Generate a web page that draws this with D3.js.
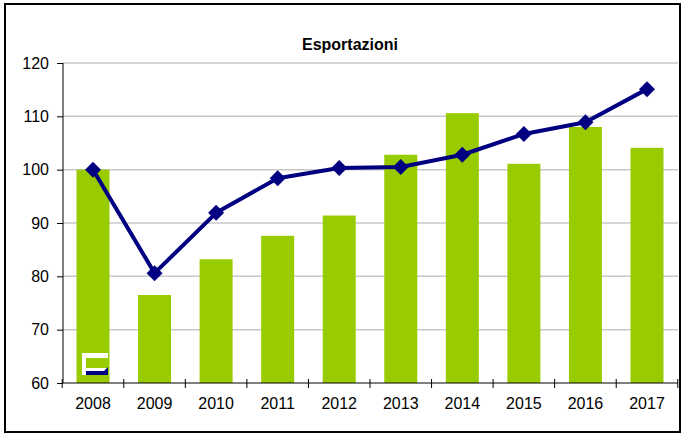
<!DOCTYPE html>
<html><head><meta charset="utf-8">
<script src="https://cdn.jsdelivr.net/npm/d3@7/dist/d3.min.js"></script>
<style>body{margin:0;background:#fff}svg{display:block}text{font-family:"Liberation Sans",Arial,sans-serif}</style>
</head><body>
<svg id="c" width="684" height="434"></svg>
<script>
const years = ["2008","2009","2010","2011","2012","2013","2014","2015","2016","2017"];
const barValues = [100, 76.5, 83.2, 87.6, 91.4, 102.8, 110.6, 101.1, 108.0, 104.1];
const lineValues = [100, 80.6, 91.9, 98.4, 100.3, 100.5, 102.8, 106.7, 108.9, 115.1];
const yTicks = [60, 70, 80, 90, 100, 110, 120];
const title = "Esportazioni";

const svg = d3.select("#c");
svg.append("rect").attr("x",5).attr("y",4).attr("width",675).attr("height",428)
  .attr("fill","#fff").attr("stroke","#000").attr("stroke-width",2);

const xc = d3.scalePoint().domain(years).range([93,647]);
const y = d3.scaleLinear().domain([60,120]).range([383,63]);

svg.append("g").selectAll("line").data(yTicks.slice(1)).join("line")
  .attr("x1",63).attr("x2",678).attr("y1",d=>y(d)).attr("y2",d=>y(d))
  .attr("stroke","#c8c8c8").attr("stroke-width",1.5);

svg.append("g").selectAll("rect").data(barValues).join("rect")
  .attr("x",(d,i)=>xc(years[i])-16.5).attr("width",33)
  .attr("y",d=>y(d)).attr("height",d=>y(60)-y(d)).attr("fill","#99cc00");

const ya = svg.append("g").attr("transform","translate(63,0)")
  .call(d3.axisLeft(y).tickValues(yTicks).tickSize(6).tickPadding(8));
ya.select(".domain").attr("stroke","#000").attr("d","M0,63V383");
ya.selectAll(".tick line").attr("stroke","#000");
ya.selectAll("text").attr("font-size",16).attr("fill","#000").attr("font-family","'Liberation Sans',Arial,sans-serif");

const step = (647-93)/9;
const xa = svg.append("g").attr("transform","translate(0,383)");
xa.append("line").attr("x1",63).attr("x2",678).attr("stroke","#000");
xa.selectAll("line.t").data(d3.range(years.length+1)).join("line").attr("class","t")
  .attr("x1",i=>93-step/2+i*step).attr("x2",i=>93-step/2+i*step).attr("y1",-4).attr("y2",5).attr("stroke","#000");
xa.selectAll("text").data(years).join("text")
  .attr("x",d=>xc(d)).attr("y",26).attr("text-anchor","middle").attr("font-size",16).text(d=>d);

const line = d3.line().x((d,i)=>xc(years[i])).y(d=>y(d));
svg.append("path").datum(lineValues).attr("d",line).attr("fill","none")
  .attr("stroke","#000080").attr("stroke-width",4).attr("stroke-linejoin","round");
svg.append("g").selectAll("path").data(lineValues).join("path")
  .attr("transform",(d,i)=>`translate(${xc(years[i])},${y(d)})`)
  .attr("d","M0,-8L8,0L0,8L-8,0Z").attr("fill","#000080");

const lg = svg.append("g");
lg.append("rect").attr("x",82).attr("y",353).attr("width",26).attr("height",22).attr("fill","#fff");
lg.append("rect").attr("x",86).attr("y",358).attr("width",22).attr("height",10).attr("fill","#99cc00");
lg.append("path").attr("d","M86,371H104L108,367V375H86Z").attr("fill","#000080");

svg.append("text").attr("x",350).attr("y",50).attr("text-anchor","middle")
  .attr("font-size",16).attr("font-weight","bold").text(title);
</script>
</body></html>
